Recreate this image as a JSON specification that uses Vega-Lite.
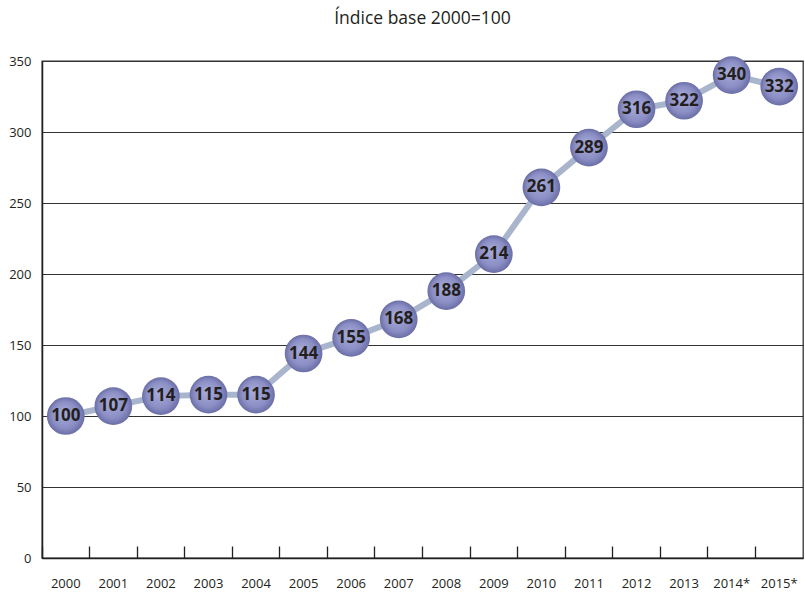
{
  "$schema": "https://vega.github.io/schema/vega-lite/v6.json",
  "width": 761,
  "height": 497,
  "autosize": "none",
  "padding": {"left": 42, "top": 61, "right": 2, "bottom": 36},
  "background": "white",
  "title": {"text": "Índice base 2000=100", "fontSize": 17.5, "fontWeight": "normal", "font": "Open Sans", "color": "#231f20", "offset": 28, "anchor": "middle"},
  "config": {
    "view": {"stroke": "#333333", "strokeWidth": 1.3},
    "axis": {"labelFont": "Open Sans", "labelFontSize": 13, "labelColor": "#231f20", "domainColor": "#231f20", "domainWidth": 1.5, "tickColor": "#231f20", "tickWidth": 1.3, "gridColor": "#333333", "gridWidth": 1.2, "gridOpacity": 1, "title": null}
  },
  "data": {
    "values": [
      {"year": "2000", "index": 100},
      {"year": "2001", "index": 107},
      {"year": "2002", "index": 114},
      {"year": "2003", "index": 115},
      {"year": "2004", "index": 115},
      {"year": "2005", "index": 144},
      {"year": "2006", "index": 155},
      {"year": "2007", "index": 168},
      {"year": "2008", "index": 188},
      {"year": "2009", "index": 214},
      {"year": "2010", "index": 261},
      {"year": "2011", "index": 289},
      {"year": "2012", "index": 316},
      {"year": "2013", "index": 322},
      {"year": "2014*", "index": 340},
      {"year": "2015*", "index": 332}
    ]
  },
  "encoding": {
    "x": {"field": "year", "type": "ordinal", "sort": null,
      "scale": {"type": "band", "paddingInner": 0, "paddingOuter": 0},
      "axis": {"labelAngle": 0, "bandPosition": 0, "tickSize": -12, "labelPadding": 31, "grid": false, "labelAlign": "center", "labelOffset": 0}},
    "y": {"field": "index", "type": "quantitative",
      "scale": {"domain": [0, 350], "nice": false},
      "axis": {"values": [0, 50, 100, 150, 200, 250, 300, 350], "ticks": false, "labelPadding": 11, "grid": true}}
  },
  "layer": [
    {"mark": {"type": "line", "color": "#a9b5cc", "strokeWidth": 6}},
    {"mark": {"type": "point", "shape": "circle", "filled": true, "size": 1420, "opacity": 1,
      "fill": {"gradient": "radial", "x1": 0.42, "y1": 0.4, "r1": 0, "x2": 0.5, "y2": 0.5, "r2": 0.5,
        "stops": [{"offset": 0, "color": "#a9acd9"}, {"offset": 0.7, "color": "#8a8ec4"}, {"offset": 1, "color": "#6a6ea6"}]},
      "stroke": null}},
    {"mark": {"type": "text", "font": "Open Sans", "fontWeight": "bold", "fontSize": 17, "color": "#231f20", "baseline": "middle", "align": "center"},
      "encoding": {"text": {"field": "index", "type": "quantitative"}}}
  ]
}
